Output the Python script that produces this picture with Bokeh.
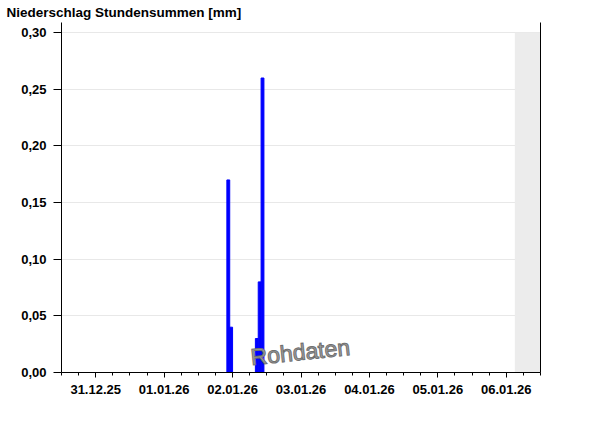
import pandas as pd
from bokeh.plotting import figure
from bokeh.models import (FixedTicker, DatetimeTickFormatter, CustomJSTickFormatter,
                          DatetimeAxis, LinearAxis, BoxAnnotation, Label, Range1d,
                          ColumnDataSource, Grid, Title, CustomLabelingPolicy)
from bokeh.embed import file_html
from bokeh.resources import INLINE

# ---- data ----
title_text = "Niederschlag Stundensummen [mm]"
hour_starts = ["2026-01-02 10:00", "2026-01-02 11:00",
               "2026-01-02 20:00", "2026-01-02 21:00", "2026-01-02 22:00"]
precip_mm = [0.17, 0.04, 0.03, 0.08, 0.26]
x_start = "2025-12-31 00:00"
x_end = "2026-01-07 00:00"
now_time = "2026-01-06 15:00"
y_ticks = [0.0, 0.05, 0.10, 0.15, 0.20, 0.25, 0.30]
y_max = 0.30
watermark = "Rohdaten"

def ms(t):
    return pd.Timestamp(t).value / 1e6

HOUR = 3600 * 1000.0
starts = [ms(t) for t in hour_starts]
src = ColumnDataSource(dict(left=starts, right=[s + HOUR for s in starts],
                            top=precip_mm, bottom=[0] * len(precip_mm)))

xs, xe = ms(x_start), ms(x_end)
days = pd.date_range(x_start, x_end, freq="D")
midnights = [ms(d) for d in days]
noons = [ms(d + pd.Timedelta(hours=12)) for d in days[:-1]]
six_h = [ms(t) for t in pd.date_range(x_start, x_end, freq="6h")]

FONT = "Liberation Sans"
no_labels = CustomLabelingPolicy(code="for (const i of indices) indices.unset(i); return indices")

p = figure(width=592, height=418, x_axis_type=None, y_axis_type=None,
           x_range=Range1d(xs, xe), y_range=Range1d(0, 0.309),
           output_backend="svg", toolbar_location=None,
           min_border_left=61, min_border_right=52, min_border_top=21,
           min_border_bottom=46)
p.outline_line_color = None
p.background_fill_color = "white"
p.border_fill_color = "white"

p.add_layout(Title(text=title_text, align="left", offset=-55, standoff=5,
                   text_font=FONT, text_font_style="bold", text_font_size="13.5px",
                   text_color="black"), "above")

yticker = FixedTicker(ticks=y_ticks, minor_ticks=[])
p.add_layout(Grid(dimension=1, ticker=yticker, grid_line_color="#e8e8e8",
                  grid_line_width=1))

# shaded "future" region
p.add_layout(BoxAnnotation(left=ms(now_time), right=xe, bottom=0, top=y_max,
                           fill_color="#ececec", fill_alpha=1.0,
                           line_color=None, level="underlay"))

p.quad(left="left", right="right", top="top", bottom="bottom", source=src,
       fill_color="#0000ff", line_color="#0000ff", line_width=1)

# y axis
yaxis = LinearAxis(ticker=yticker,
                   formatter=CustomJSTickFormatter(code="return tick.toFixed(2).replace('.', ',');"))
yaxis.major_label_text_font = FONT
yaxis.major_label_text_font_style = "bold"
yaxis.major_label_text_font_size = "13px"
yaxis.major_label_text_color = "black"
yaxis.major_tick_out = 8
yaxis.major_tick_in = 0
yaxis.minor_tick_out = 0
yaxis.major_label_standoff = 7
yaxis.axis_line_color = "black"
p.add_layout(yaxis, "left")

# right border axis
raxis = LinearAxis(ticker=FixedTicker(ticks=[], minor_ticks=[]), major_label_policy=no_labels)
raxis.major_tick_out = 0
raxis.minor_tick_out = 0
raxis.axis_line_color = "black"
p.add_layout(raxis, "right")

# x axis with labels at noon, minor ticks every 6h
fmt = "%d.%m.%y"
xaxis = DatetimeAxis(ticker=FixedTicker(ticks=noons, minor_ticks=six_h),
                     formatter=DatetimeTickFormatter(hours=fmt, hourmin=fmt, days=fmt,
                                                     months=fmt, years=fmt, minutes=fmt))
xaxis.major_label_text_font = FONT
xaxis.major_label_text_font_style = "bold"
xaxis.major_label_text_font_size = "13px"
xaxis.major_label_text_color = "black"
xaxis.major_tick_out = 5
xaxis.major_tick_in = 0
xaxis.minor_tick_out = 3
xaxis.minor_tick_in = 0
xaxis.major_label_standoff = 7
xaxis.axis_line_color = "black"
p.add_layout(xaxis, "below")

# long ticks at midnight
xaxis2 = DatetimeAxis(ticker=FixedTicker(ticks=midnights, minor_ticks=[]),
                      fixed_location=0, major_label_policy=no_labels)
xaxis2.major_tick_out = 8
xaxis2.major_tick_in = 0
xaxis2.minor_tick_out = 0
xaxis2.axis_line_color = None
p.add_layout(xaxis2, "below")

# watermark
p.add_layout(Label(x=ms("2026-01-02 18:20"), y=0.0135, text=watermark, angle=0.103,
                   text_font=FONT, text_font_size="23px", text_color="#a0a0a0",
                   text_outline_color="#707070", text_baseline="alphabetic"))

open("out.html", "w").write(file_html(p, INLINE))
